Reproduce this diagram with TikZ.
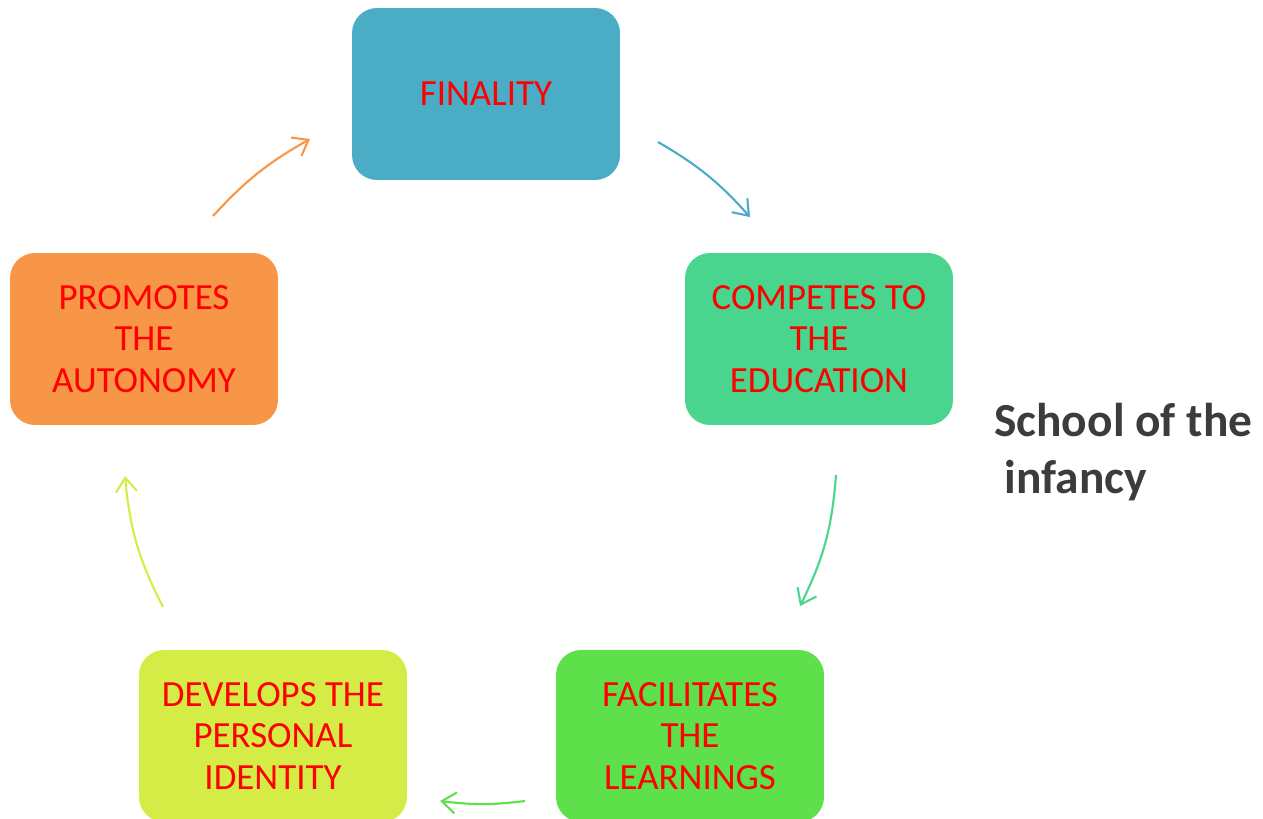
\documentclass[tikz,border=0pt]{standalone}
\usepackage{fontspec}
\setmainfont{Carlito}
\usepackage{xcolor}
\usetikzlibrary{arrows.meta}
\definecolor{finblue}{RGB}{75,172,198}
\definecolor{comgreen}{RGB}{74,213,142}
\definecolor{facgreen}{RGB}{94,224,74}
\definecolor{devyellow}{RGB}{212,236,69}
\definecolor{proorange}{RGB}{247,150,70}
\definecolor{textred}{RGB}{255,0,0}
\definecolor{titlegray}{RGB}{60,60,60}

\tikzset{
  stagebox/.style={rectangle, rounded corners=0.5cm, minimum width=5.36cm, minimum height=3.44cm,
    align=center, text=textred, font=\fontsize{21}{23.6}\selectfont},
  cyclearrow/.style={line width=1.2pt, -{Straight Barb[length=0.28cm, width=0.42cm, line width=1.2pt]}}
}

\begin{document}
\begin{tikzpicture}[x=0.02cm, y=-0.02cm]
  \useasboundingbox (0,0) rectangle (1263,818);

  \node[stagebox, fill=finblue] (finality) at (486,94) {FINALITY};
  \node[stagebox, fill=comgreen] (competes) at (819,339) {COMPETES TO\\THE\\EDUCATION};
  \node[stagebox, fill=facgreen] (facilitates) at (690,736) {FACILITATES\\THE\\LEARNINGS};
  \node[stagebox, fill=devyellow] (develops) at (273,736) {DEVELOPS THE\\PERSONAL\\IDENTITY};
  \node[stagebox, fill=proorange] (promotes) at (144,339) {PROMOTES\\THE\\AUTONOMY};

  \node[anchor=west, align=left, text=titlegray, font=\fontsize{27}{32.5}\selectfont\bfseries] (title) at (988,452)
    {School of the\\\hspace{0.22em}infancy};

  % arrow ends
  \coordinate (a1) at (658,142); \coordinate (b1) at (750,217);
  \coordinate (a2) at (836,475); \coordinate (b2) at (800,606);
  \coordinate (a3) at (525,801); \coordinate (b3) at (440,801);
  \coordinate (a4) at (163,607); \coordinate (b4) at (125,476);
  \coordinate (a5) at (213,216); \coordinate (b5) at (310,139);

  \draw[cyclearrow, finblue] (a1) to[bend left=9] (b1);
  \draw[cyclearrow, comgreen] (a2) to[bend left=11] (b2);
  \draw[cyclearrow, facgreen] (a3) to[bend left=7] (b3);
  \draw[cyclearrow, devyellow] (a4) to[bend left=11] (b4);
  \draw[cyclearrow, proorange] (a5) to[bend left=9] (b5);
\end{tikzpicture}
\end{document}
